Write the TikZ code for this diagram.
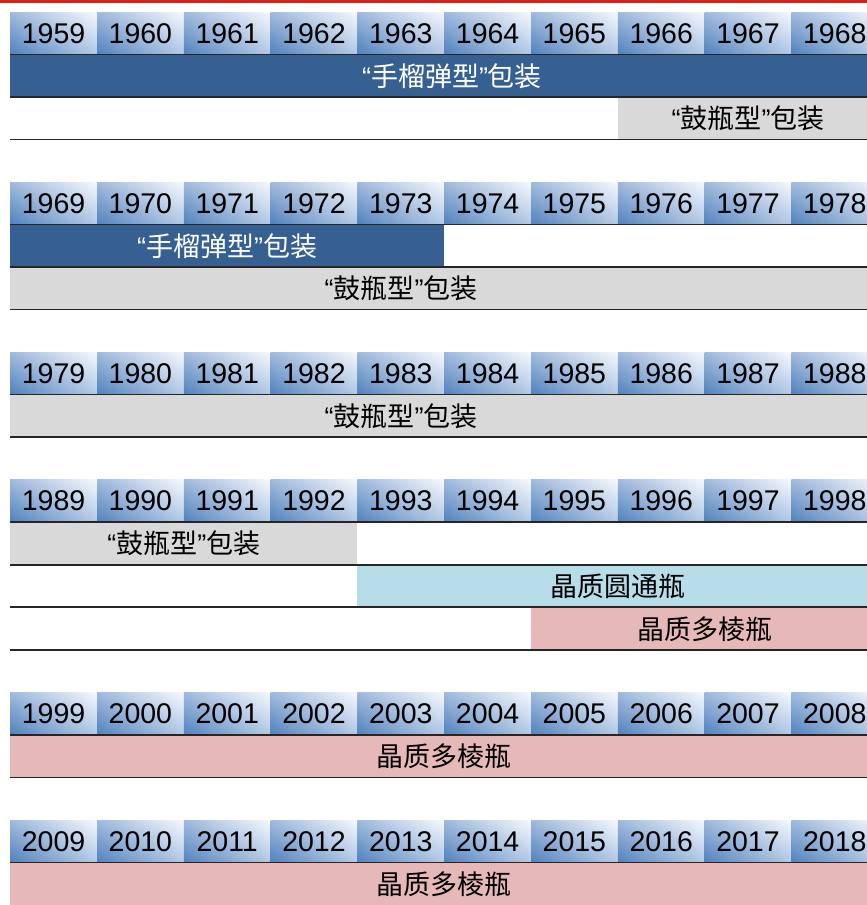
\documentclass[tikz,border=0pt]{standalone}
\usepackage{fontspec}
\usetikzlibrary{shadings}
\setmainfont{Liberation Sans}
\newfontfamily\cjk{Noto Sans CJK SC}
\newcommand\myLq{{\rmfamily “}}
\newcommand\myRq{{\rmfamily ”}}
\definecolor{darkbar}{RGB}{54,96,146}
\definecolor{graybar}{RGB}{217,217,217}
\definecolor{cyanbar}{RGB}{183,221,232}
\definecolor{pinkbar}{RGB}{230,185,184}
\definecolor{yearLL}{RGB}{79,129,189}
\definecolor{yearUL}{RGB}{160,185,220}
\definecolor{yearLR}{RGB}{178,200,229}
\definecolor{yearUR}{RGB}{246,249,253}
\definecolor{rulecol}{RGB}{38,38,38}
\definecolor{topred}{RGB}{226,30,20}
\tikzset{
  yearcell/.style={inner sep=0pt, minimum width=86.8pt, minimum height=42.52pt,
    anchor=north west, lower left=yearLL, upper left=yearUL, lower right=yearLR,
    upper right=yearUR, text=black, font=\fontsize{28.5}{30}\selectfont},
  bar/.style={inner sep=0pt, minimum height=42.52pt, anchor=north west},
  cjktext/.style={inner sep=0pt, text=black, font=\cjk\fontsize{27}{30}\selectfont},
  rowrule/.style={draw=rulecol, line width=1.6pt},
}
\begin{document}
\begin{tikzpicture}[x=1pt,y=-1pt]
\useasboundingbox (0,0) rectangle (867,905);
\clip (0,0) rectangle (867,905);
\fill[white] (0,0) rectangle (867,905);
\draw[topred, line width=2.5pt] (0,1.5) -- (867,1.5);
% year rows
\foreach \r/\s in {0/1959,4/1969,8/1979,11/1989,16/1999,19/2009}{
  \foreach \c in {0,...,9}{
    \pgfmathtruncatemacro\yr{\s+\c}
    \node[yearcell] (y\yr) at ({10+\c*86.8},{12+\r*42.52}) {\yr};
  }
}
% bars
\node[bar, fill=darkbar, minimum width=868pt] (b1) at (10,{12+1*42.52}) {};
\node[cjktext, text=white] (t1) at (452,{12+1.5*42.52}) {\myLq 手榴弹型\myRq 包装};
\node[bar, fill=graybar, minimum width=260.4pt] (b2) at ({10+7*86.8},{12+2*42.52}) {};
\node[cjktext] (t2) at (b2.center) {\myLq 鼓瓶型\myRq 包装};
\node[bar, fill=darkbar, minimum width=434pt] (b5) at (10,{12+5*42.52}) {};
\node[cjktext, text=white] (t5) at (b5.center) {\myLq 手榴弹型\myRq 包装};
\node[bar, fill=graybar, minimum width=868pt] (b6) at (10,{12+6*42.52}) {};
\node[cjktext] (t6) at (401,{12+6.5*42.52}) {\myLq 鼓瓶型\myRq 包装};
\node[bar, fill=graybar, minimum width=868pt] (b9) at (10,{12+9*42.52}) {};
\node[cjktext] (t9) at (401,{12+9.5*42.52}) {\myLq 鼓瓶型\myRq 包装};
\node[bar, fill=graybar, minimum width=347.2pt] (b12) at (10,{12+12*42.52}) {};
\node[cjktext] (t12) at (b12.center) {\myLq 鼓瓶型\myRq 包装};
\node[bar, fill=cyanbar, minimum width=520.8pt] (b13) at ({10+4*86.8},{12+13*42.52}) {};
\node[cjktext] (t13) at (b13.center) {晶质圆通瓶};
\node[bar, fill=pinkbar, minimum width=347.2pt] (b14) at ({10+6*86.8},{12+14*42.52}) {};
\node[cjktext] (t14) at (b14.center) {晶质多棱瓶};
\node[bar, fill=pinkbar, minimum width=868pt] (b17) at (10,{12+17*42.52}) {};
\node[cjktext] (t17) at (b17.center) {晶质多棱瓶};
\node[bar, fill=pinkbar, minimum width=868pt] (b20) at (10,{12+20*42.52}) {};
\node[cjktext] (t20) at (b20.center) {晶质多棱瓶};
% row rules
\foreach \r in {0,1,2,4,5,6,8,9,11,12,13,14,16,17,19}{
  \draw[rowrule] (10,{12+(\r+1)*42.52}) -- (867,{12+(\r+1)*42.52});
}
\end{tikzpicture}
\end{document}
